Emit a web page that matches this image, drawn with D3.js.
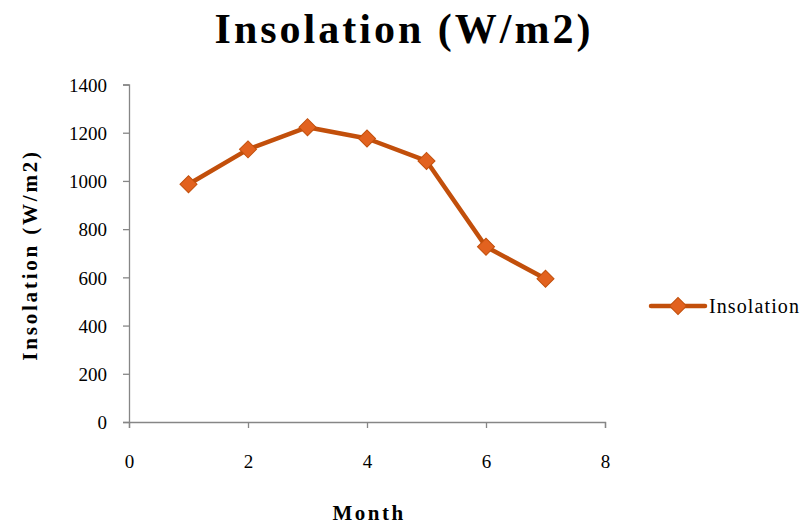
<!DOCTYPE html>
<html>
<head>
<meta charset="utf-8">
<script src="https://cdn.jsdelivr.net/npm/d3@7"></script>
<style>
    body { margin: 0; background: #fff; }
    svg text { font-family: "Liberation Serif", "DejaVu Serif", serif; fill: #000; }
</style>
</head>
<body>
<div id="chart"></div>
<script>
const chartTitle = 'Insolation (W/m2)';
const seriesName = 'Insolation';
const months = [1, 2, 3, 4, 5, 6, 7];
const insolation = [986, 1131, 1223, 1176, 1083, 727, 594];
const xTicks = [0, 2, 4, 6, 8];
const yTicks = [0, 200, 400, 600, 800, 1000, 1200, 1400];

const width = 806, height = 528;
const plot = { left: 129, right: 605, top: 84.5, bottom: 422 };

const lineColor = '#C24F0B';
const markerFill = '#E2621F';
const axisColor = '#868686';

const svg = d3.select('#chart')
    .append('svg')
    .attr('width', width)
    .attr('height', height);

const xScale = d3.scaleLinear().domain([0, 8]).range([plot.left, plot.right]);
const yScale = d3.scaleLinear().domain([0, 1400]).range([plot.bottom, plot.top]);

// title
svg.append('text')
    .attr('x', 404)
    .attr('y', 43)
    .attr('text-anchor', 'middle')
    .style('font-size', '42px')
    .style('font-weight', 'bold')
    .style('letter-spacing', '3px')
    .text(chartTitle);

// y axis
const yAxis = svg.append('g')
    .attr('transform', `translate(${plot.left},0)`)
    .call(d3.axisLeft(yScale).tickValues(yTicks).tickSize(6).tickPadding(16).tickFormat(d3.format('d')));
yAxis.select('.domain').attr('stroke', axisColor).attr('stroke-width', 1.3);
yAxis.selectAll('.tick line').attr('stroke', axisColor).attr('stroke-width', 1.3);
yAxis.selectAll('text').style('font-size', '19px').attr('dy', '0.35em');

// x axis
const xAxis = svg.append('g')
    .attr('transform', `translate(0,${plot.bottom})`)
    .call(d3.axisBottom(xScale).tickValues(xTicks).tickSize(6).tickPadding(27));
xAxis.select('.domain').attr('stroke', axisColor).attr('stroke-width', 1.3);
xAxis.selectAll('.tick line').attr('stroke', axisColor).attr('stroke-width', 1.3);
xAxis.selectAll('text').style('font-size', '19px');

// axis titles
svg.append('text')
    .attr('x', 369)
    .attr('y', 520)
    .attr('text-anchor', 'middle')
    .style('font-size', '21px')
    .style('font-weight', 'bold')
    .style('letter-spacing', '2.5px')
    .text('Month');

svg.append('text')
    .attr('transform', 'translate(37,255) rotate(-90)')
    .attr('text-anchor', 'middle')
    .style('font-size', '21px')
    .style('font-weight', 'bold')
    .style('letter-spacing', '2.8px')
    .text('Insolation (W/m2)');

// series
const points = months.map((m, i) => ({ x: m, y: insolation[i] }));

const line = d3.line()
    .x(d => xScale(d.x))
    .y(d => yScale(d.y));

svg.append('path')
    .datum(points)
    .attr('d', line)
    .attr('fill', 'none')
    .attr('stroke', lineColor)
    .attr('stroke-width', 4.5)
    .attr('stroke-linejoin', 'round');

const diamond = d3.symbol().type(d3.symbolSquare).size(145);

svg.selectAll('.marker')
    .data(points)
    .enter()
    .append('path')
    .attr('class', 'marker')
    .attr('d', diamond)
    .attr('transform', d => `translate(${xScale(d.x)},${yScale(d.y)}) rotate(45)`)
    .attr('fill', markerFill)
    .attr('stroke', lineColor)
    .attr('stroke-width', 1);

// legend
const legend = svg.append('g').attr('transform', 'translate(651,306)');
legend.append('line')
    .attr('x1', 0).attr('x2', 54)
    .attr('y1', 0).attr('y2', 0)
    .attr('stroke', lineColor)
    .attr('stroke-width', 4.5)
    .attr('stroke-linecap', 'round');
legend.append('path')
    .attr('d', diamond)
    .attr('transform', 'translate(27,0) rotate(45)')
    .attr('fill', markerFill)
    .attr('stroke', lineColor)
    .attr('stroke-width', 1);
legend.append('text')
    .attr('x', 58)
    .attr('y', 7)
    .style('font-size', '20px')
    .style('letter-spacing', '1.1px')
    .text(seriesName);
</script>
</body>
</html>
